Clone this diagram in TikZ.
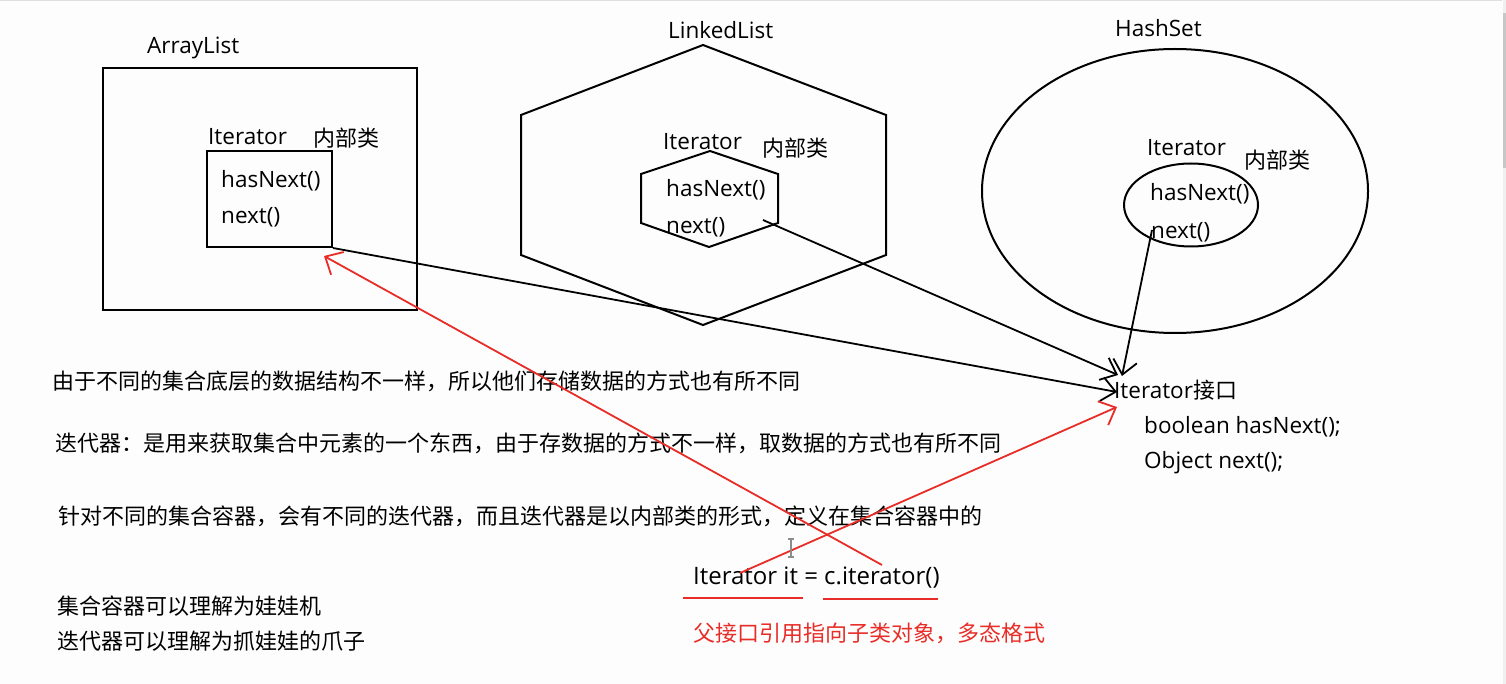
\documentclass[tikz,border=0pt]{standalone}
\usepackage{fontspec}
\setmainfont{Open Sans}
\newfontfamily\cjk{Noto Sans CJK SC}
\usetikzlibrary{arrows.meta,shapes.geometric}
\definecolor{redA}{RGB}{232,45,40}
\definecolor{bg}{RGB}{253,253,253}
\begin{document}
\begin{tikzpicture}[x=1pt,y=-1pt,
  box/.style={draw, line width=2pt, inner sep=0pt},
  outl/.style={draw, line width=2pt, line join=miter},
  lab/.style={font=\fontsize{22.5}{26}\selectfont, inner sep=0pt, anchor=west},
  cj/.style={font=\cjk\fontsize{22}{26}\selectfont, inner sep=0pt, anchor=west},
  blkarrow/.style={line width=1.8pt, -{Straight Barb[length=14pt,width=24pt]}},
  redarrow/.style={line width=1.8pt, draw=redA, -{Straight Barb[length=14pt,width=26pt]}},
  redline/.style={line width=2pt, draw=redA}
]
\useasboundingbox (0,0) rectangle (1506,684);
\fill[bg] (0,0) rectangle (1506,684);
\fill[black!12] (0,0) rectangle (1502,1.5);
\fill[black!6] (1503,0) rectangle (1506,684);
\fill[black!22] (1503,13) rectangle (1506,168);

% ArrayList
\node[box, minimum width=314pt, minimum height=242pt] (arr) at (260,189) {};
\node[lab] (arrT) at (147,48) {ArrayList};
\node[box, minimum width=125pt, minimum height=96pt] (arrIt) at (269.5,199) {};
\node[lab] (arrItT) at (208,137) {Iterator};
\node[cj] (arrIn) at (313,138) {内部类};
\node[lab] (arrH) at (221,181) {hasNext()};
\node[lab] (arrN) at (221,217) {next()};

% LinkedList
\draw[outl] (703,45) -- (886,115) -- (886,255) -- (703,325) -- (521,255) -- (521,115) -- cycle;
\node[lab] (llT) at (668,30) {LinkedList};
\draw[outl] (710,151) -- (778,174) -- (778,223) -- (709,247) -- (641,223) -- (641,174) -- cycle;
\node[lab] (llItT) at (663,142) {Iterator};
\node[cj] (llIn) at (762,148) {内部类};
\node[lab] (llH) at (666,190) {hasNext()};
\node[lab] (llN) at (666,227) {next()};
\coordinate (llNx) at (763,220);

% HashSet
\node[ellipse, draw, line width=2pt, minimum width=386pt, minimum height=284pt, inner sep=0pt] (hs) at (1175,191) {};
\node[lab] (hsT) at (1115,28) {HashSet};
\node[ellipse, draw, line width=2pt, minimum width=134pt, minimum height=83pt, inner sep=0pt] (hsIt) at (1191,205) {};
\node[lab] (hsItT) at (1147,148) {Iterator};
\node[cj] (hsIn) at (1244,160) {内部类};
\node[lab] (hsH) at (1150,194) {hasNext()};
\node[lab] (hsN) at (1151,232) {next()};
\coordinate (hsNx) at (1152,230);

% Iterator interface
\node[inner sep=0pt, anchor=west] (iface) at (1114,390) {\fontsize{22.5}{26}\selectfont Iterator{\cjk\fontsize{22}{26}\selectfont 接口}};
\node[lab] (ifH) at (1144,427) {boolean hasNext();};
\node[lab] (ifN) at (1144,463) {Object next();};
\coordinate (tipA) at (1117,392);
\coordinate (tipB) at (1118,375);
\coordinate (tipC) at (1122,376);
\coordinate (tipR) at (1117,407);

% left texts
\node[cj] (t1) at (52,381) {由于不同的集合底层的数据结构不一样，所以他们存储数据的方式也有所不同};
\node[cj] (t2) at (55,443) {迭代器：是用来获取集合中元素的一个东西，由于存数据的方式不一样，取数据的方式也有所不同};
\node[cj] (t3) at (58,516) {针对不同的集合容器，会有不同的迭代器，而且迭代器是以内部类的形式，定义在集合容器中的};
\node[cj] (t4) at (57,606) {集合容器可以理解为娃娃机};
\node[cj] (t5) at (57,641) {迭代器可以理解为抓娃娃的爪子};

% code line
\node[lab, font=\fontsize{24}{28}\selectfont] (code) at (693,578) {Iterator it = c.iterator()};
\node[cj, text=redA] (poly) at (693,633) {父接口引用指向子类对象，多态格式};
\coordinate (ulA1) at (683,598);
\coordinate (ulA2) at (803,598);
\coordinate (ulB1) at (823,599);
\coordinate (ulB2) at (938,599);
\coordinate (itStart) at (740,573);
\coordinate (ciStart) at (882,565);
\coordinate (arrTip) at (324,256);

% black connectors
\draw[blkarrow] (arrIt.south east) -- (tipA);
\draw[blkarrow] (llNx) -- (tipB);
\draw[blkarrow] (hsNx) -- (tipC);

% red connectors
\draw[redarrow] (ciStart) -- (arrTip);
\draw[redarrow] (itStart) -- (tipR);
\draw[redline] (ulA1) -- (ulA2);
\draw[redline] (ulB1) -- (ulB2);

% text cursor
\draw[black!45, line width=1.2pt] (791,539) -- (791,557) (788,539) -- (794,539) (788,557) -- (794,557);
\end{tikzpicture}
\end{document}
